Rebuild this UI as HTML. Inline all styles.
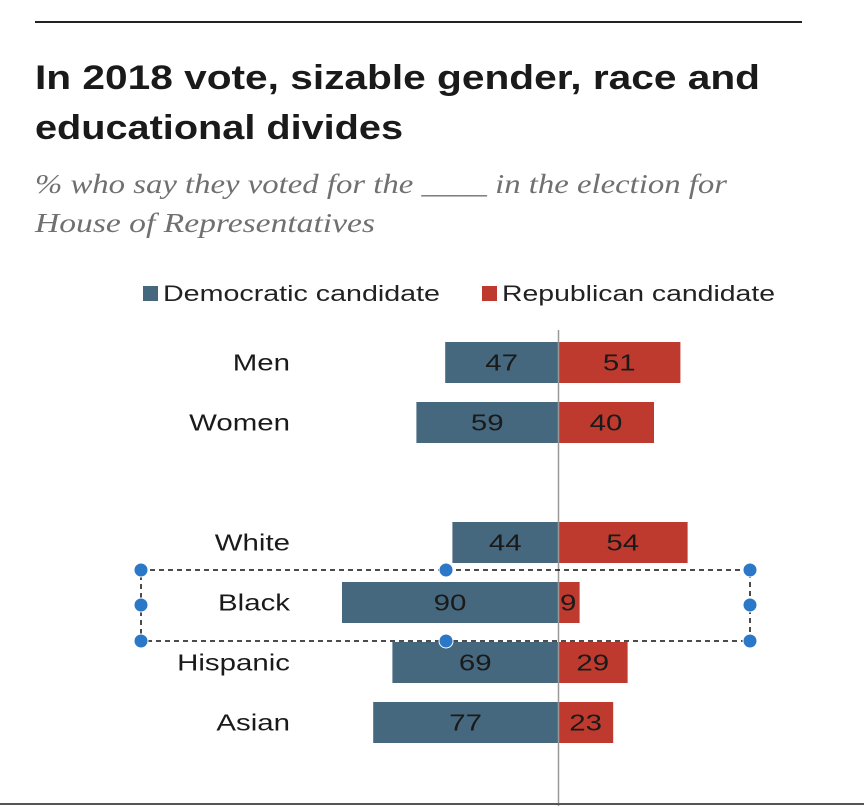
<!DOCTYPE html>
<html><head><meta charset="utf-8"><style>
body{margin:0;width:864px;height:806px;background:#fff;overflow:hidden;font-family:"Liberation Sans",sans-serif;}
</style></head><body>
<svg width="864" height="806" xmlns="http://www.w3.org/2000/svg">
<line x1="35" y1="22" x2="802" y2="22" stroke="#222" stroke-width="2"/>
<text x="35" y="89" textLength="725" lengthAdjust="spacingAndGlyphs" font-family="Liberation Sans" font-weight="bold" font-size="34" fill="#1a1a1a">In 2018 vote, sizable gender, race and</text>
<text x="35" y="139" textLength="368" lengthAdjust="spacingAndGlyphs" font-family="Liberation Sans" font-weight="bold" font-size="34" fill="#1a1a1a">educational divides</text>
<text x="35" y="193" textLength="692" lengthAdjust="spacingAndGlyphs" font-family="Liberation Serif" font-style="italic" font-size="27" fill="#707070">% who say they voted for the ____ in the election for</text>
<text x="35" y="232" textLength="340" lengthAdjust="spacingAndGlyphs" font-family="Liberation Serif" font-style="italic" font-size="27" fill="#707070">House of Representatives</text>
<g>
<rect x="143" y="286" width="15" height="15" fill="#45687f"/>
<text x="163" y="301" textLength="277" lengthAdjust="spacingAndGlyphs" font-size="22" fill="#222">Democratic candidate</text>
<rect x="482" y="286" width="15" height="15" fill="#bf3a2e"/>
<text x="502" y="301" textLength="273" lengthAdjust="spacingAndGlyphs" font-size="22" fill="#222">Republican candidate</text>
</g>
<g id="bars"></g>
<line x1="558.5" y1="330" x2="558.5" y2="806" stroke="#999" stroke-width="1.5"/>
<line x1="0" y1="804" x2="864" y2="804" stroke="#555" stroke-width="2"/>
<g>
<rect x="141" y="570" width="609" height="71" fill="none" stroke="#111" stroke-width="1.5" stroke-dasharray="5,4"/>
<g fill="#2b78c9" stroke="#fff" stroke-width="1">
<circle cx="141" cy="570" r="7"/><circle cx="446" cy="570" r="7"/><circle cx="750" cy="570" r="7"/>
<circle cx="141" cy="605" r="7"/><circle cx="750" cy="605" r="7"/>
<circle cx="141" cy="641" r="7"/><circle cx="446" cy="641" r="7"/><circle cx="750" cy="641" r="7"/>
</g></g>
</svg>
<script>
const categories=["Men","Women","White","Black","Hispanic","Asian"];
const demValues=[47,59,44,90,69,77];
const repValues=[51,40,54,9,29,23];
const rowSlots=[0,1,3,4,5,6];
const cx=558, scale=2.4, top0=342, step=60, bh=41, sx=1.28;
const x=v=>v*scale;
const y=i=>top0+rowSlots[i]*step;
const ns="http://www.w3.org/2000/svg";
const g=document.getElementById('bars');
function mk(tag,attrs){const e=document.createElementNS(ns,tag);for(const k in attrs)e.setAttribute(k,attrs[k]);g.appendChild(e);return e;}
function txt(px,py,anchor,s){
  return mk('text',{x:0,y:0,'text-anchor':anchor,'font-size':'23',fill:'#1a1a1a',transform:`translate(${px},${py}) scale(${sx},1)`});
}
categories.forEach((c,i)=>{
  const yy=y(i), ty=yy+bh/2+8;
  const d=mk('rect',{x:cx-x(demValues[i]),y:yy,width:x(demValues[i]),height:bh,fill:'#45687f'});
  
  
  const r=mk('rect',{x:cx,y:yy,width:x(repValues[i]),height:bh,fill:'#bf3a2e'});
  
  
  const lab=txt(290,ty,'end');
  lab.textContent=c;
  
  
  const dt=txt(cx-x(demValues[i])/2,ty,'middle');
  dt.textContent=demValues[i];
  
  
  const w=x(repValues[i]);
  const rt=txt(w<30?cx+2:cx+w/2,ty,w<30?'start':'middle');
  rt.textContent=repValues[i];
  
  
});
</script>
</body></html>
